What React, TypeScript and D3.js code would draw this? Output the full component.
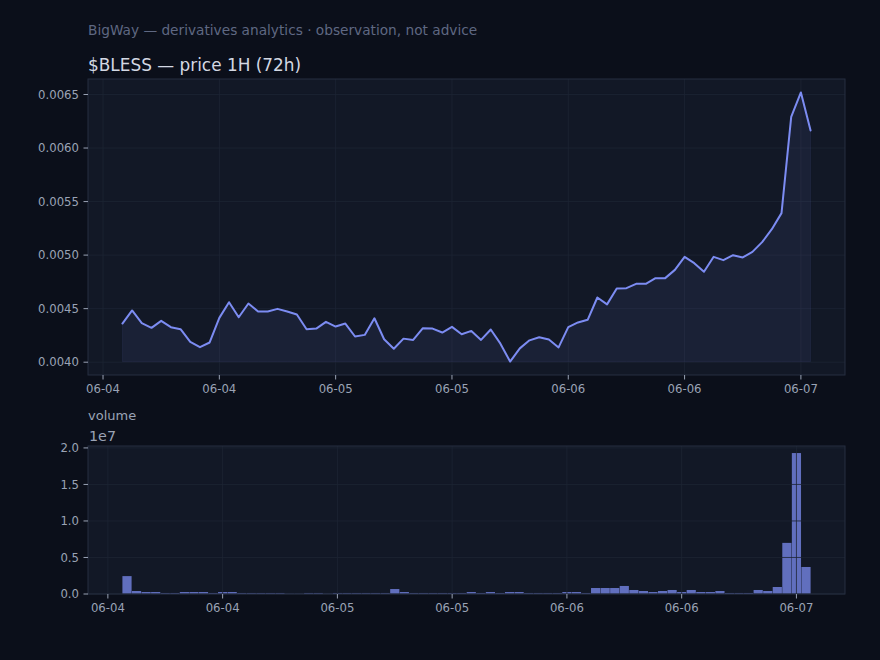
import * as d3 from "d3";

// hourly candles, first one at 06-04 02:00 UTC
const startTime = new Date(Date.UTC(2025, 5, 4, 2));

const price = [
  0.004361, 0.004483, 0.004364, 0.004321, 0.004386, 0.004327, 0.004308, 0.00419,
  0.00414, 0.004184, 0.004414, 0.00456, 0.00442, 0.004548, 0.004473, 0.004473,
  0.004498, 0.004473, 0.004445, 0.004308, 0.004314, 0.004377, 0.004333, 0.004361,
  0.00424, 0.004255, 0.00441, 0.004214, 0.004126, 0.00422, 0.004208, 0.004318,
  0.004314, 0.004277, 0.00433, 0.004261, 0.004292, 0.004208, 0.004305, 0.004173,
  0.004006, 0.004129, 0.004204, 0.004233, 0.004211, 0.004138, 0.004327, 0.004371,
  0.004396, 0.004604, 0.00454, 0.004688, 0.004691, 0.004732, 0.004732, 0.004785,
  0.004785, 0.004862, 0.004984, 0.004925, 0.004844, 0.004984, 0.004953, 0.004999,
  0.004978, 0.00503, 0.005121, 0.005242, 0.005392, 0.006291, 0.006519, 0.006164,
];

const volume = [
  2.45e6, 4.1e5, 2.7e5, 2.7e5, 1.4e5, 1.4e5, 2.7e5, 2.7e5,
  2.7e5, 1.4e5, 2.7e5, 2.7e5, 1.4e5, 1.4e5, 1.4e5, 1.4e5,
  1.4e5, 4e4, 4e4, 1.4e5, 1.4e5, 4e4, 1.4e5, 1.4e5,
  1.4e5, 1.4e5, 1.4e5, 1.4e5, 6.8e5, 2.7e5, 1.4e5, 1.4e5,
  1.4e5, 1.4e5, 1.4e5, 1.4e5, 2.7e5, 1.4e5, 2.7e5, 1.4e5,
  2.7e5, 2.7e5, 1.4e5, 1.4e5, 1.4e5, 1.4e5, 2.7e5, 2.7e5,
  1.4e5, 8.2e5, 8.2e5, 8.2e5, 1.1e6, 5.5e5, 4.1e5, 2.7e5,
  4.1e5, 5.5e5, 2.7e5, 5.5e5, 2.7e5, 2.7e5, 4.1e5, 1.4e5,
  1.4e5, 1.4e5, 5.5e5, 4.1e5, 9.6e5, 7.0e6, 1.93e7, 3.7e6,
];

const priceTicks = [0.004, 0.0045, 0.005, 0.0055, 0.006, 0.0065];
const volumeTicks = [0, 0.5e7, 1.0e7, 1.5e7, 2.0e7];

const times = price.map((_, i) => d3.timeHour.offset(startTime, i));

const W = 880;
const H = 660;
const left = 88;
const right = 845;
const top1 = 79;
const bottom1 = 375;
const top2 = 446;
const bottom2 = 594;

const BG = "#0b0f1a";
const FACE = "#121826";
const SPINE = "#262e40";
const GRID = "#1d2434";
const TICK = "#9aa3b5";
const LINE = "#7c8cf2";
const FONT = "DejaVu Sans, sans-serif";

const hour = 3600 * 1000;
const barW = 0.96 * hour;

function padDomain(lo: number, hi: number, frac = 0.05): [number, number] {
  const m = (hi - lo) * frac;
  return [lo - m, hi + m];
}

export default function App() {
  const t0 = +times[0];
  const t1 = +times[times.length - 1];

  const [xa, xb] = padDomain(t0, t1);
  const x1 = d3.scaleTime().domain([new Date(xa), new Date(xb)]).range([left, right]);

  const [xc, xd] = padDomain(t0 - barW / 2, t1 + barW / 2);
  const x2 = d3.scaleTime().domain([new Date(xc), new Date(xd)]).range([left, right]);

  const pMin = d3.min(price)!;
  const pMax = d3.max(price)!;
  const y1 = d3.scaleLinear().domain(padDomain(pMin, pMax)).range([bottom1, top1]);

  const vMax = d3.max(volume)!;
  const y2 = d3.scaleLinear().domain([0, vMax * 1.05]).range([bottom2, top2]);

  const xTicks1 = x1.ticks(d3.utcHour.every(12)!);
  const xTicks2 = x2.ticks(d3.utcHour.every(12)!);
  const fmtDay = d3.utcFormat("%m-%d");

  const line = d3
    .line<number>()
    .x((_, i) => x1(times[i]))
    .y((d) => y1(d));

  const area = d3
    .area<number>()
    .x((_, i) => x1(times[i]))
    .y0(y1(pMin))
    .y1((d) => y1(d));

  return (
    <svg
      width={W}
      height={H}
      style={{ position: "absolute", left: 0, top: 0, background: BG }}
      fontFamily={FONT}
    >
      <rect width={W} height={H} fill={BG} />

      <text x={88} y={35} fill="#5f6882" fontSize={13.7}>
        BigWay — derivatives analytics · observation, not advice
      </text>
      <text x={88} y={71} fill="#d3d8e3" fontSize={16.9}>
        $BLESS — price 1H (72h)
      </text>

      {/* price panel */}
      <rect x={left} y={top1} width={right - left} height={bottom1 - top1} fill={FACE} />
      {priceTicks.map((t) => (
        <line key={"gy" + t} x1={left} x2={right} y1={y1(t)} y2={y1(t)} stroke={GRID} strokeWidth={0.8} />
      ))}
      {xTicks1.map((t) => (
        <line key={"gx" + +t} x1={x1(t)} x2={x1(t)} y1={top1} y2={bottom1} stroke={GRID} strokeWidth={0.8} />
      ))}
      <path
        d={area(price) || ""}
        fill={LINE}
        fillOpacity={0.08}
        stroke={LINE}
        strokeOpacity={0.08}
        strokeWidth={1}
      />
      <path d={line(price) || ""} fill="none" stroke={LINE} strokeWidth={2} strokeLinejoin="round" strokeLinecap="round" />
      <rect x={left} y={top1} width={right - left} height={bottom1 - top1} fill="none" stroke={SPINE} strokeWidth={1} />

      {priceTicks.map((t) => (
        <g key={"ty" + t}>
          <line x1={left - 4.5} x2={left} y1={y1(t)} y2={y1(t)} stroke={TICK} strokeWidth={1} />
          <text x={left - 9} y={y1(t)} dy="0.35em" textAnchor="end" fill={TICK} fontSize={11.7}>
            {d3.format(".4f")(t)}
          </text>
        </g>
      ))}
      {xTicks1.map((t) => (
        <g key={"tx" + +t}>
          <line x1={x1(t)} x2={x1(t)} y1={bottom1} y2={bottom1 + 4.5} stroke={TICK} strokeWidth={1} />
          <text x={x1(t)} y={bottom1 + 9} dy="0.76em" textAnchor="middle" fill={TICK} fontSize={11.7}>
            {fmtDay(t)}
          </text>
        </g>
      ))}

      {/* volume panel */}
      <text x={88} y={420} fill={TICK} fontSize={13}>
        volume
      </text>
      <text x={89} y={441} fill={TICK} fontSize={14.3}>
        1e7
      </text>
      <rect x={left} y={top2} width={right - left} height={bottom2 - top2} fill={FACE} />
      {volume.map((v, i) => {
        const xs = x2(new Date(+times[i] - barW / 2));
        const xe = x2(new Date(+times[i] + barW / 2));
        return (
          <rect
            key={"b" + i}
            x={xs}
            y={y2(v)}
            width={xe - xs}
            height={y2(0) - y2(v)}
            fill={LINE}
            fillOpacity={0.75}
          />
        );
      })}
      {volumeTicks.map((t) => (
        <line key={"gv" + t} x1={left} x2={right} y1={y2(t)} y2={y2(t)} stroke={GRID} strokeWidth={0.8} />
      ))}
      {xTicks2.map((t) => (
        <line key={"gx2" + +t} x1={x2(t)} x2={x2(t)} y1={top2} y2={bottom2} stroke={GRID} strokeWidth={0.8} />
      ))}
      <rect x={left} y={top2} width={right - left} height={bottom2 - top2} fill="none" stroke={SPINE} strokeWidth={1} />

      {volumeTicks.map((t) => (
        <g key={"tv" + t}>
          <line x1={left - 4.5} x2={left} y1={y2(t)} y2={y2(t)} stroke={TICK} strokeWidth={1} />
          <text x={left - 9} y={y2(t)} dy="0.35em" textAnchor="end" fill={TICK} fontSize={11.7}>
            {d3.format(".1f")(t / 1e7)}
          </text>
        </g>
      ))}
      {xTicks2.map((t) => (
        <g key={"tx2" + +t}>
          <line x1={x2(t)} x2={x2(t)} y1={bottom2} y2={bottom2 + 4.5} stroke={TICK} strokeWidth={1} />
          <text x={x2(t)} y={bottom2 + 9} dy="0.76em" textAnchor="middle" fill={TICK} fontSize={11.7}>
            {fmtDay(t)}
          </text>
        </g>
      ))}
    </svg>
  );
}
